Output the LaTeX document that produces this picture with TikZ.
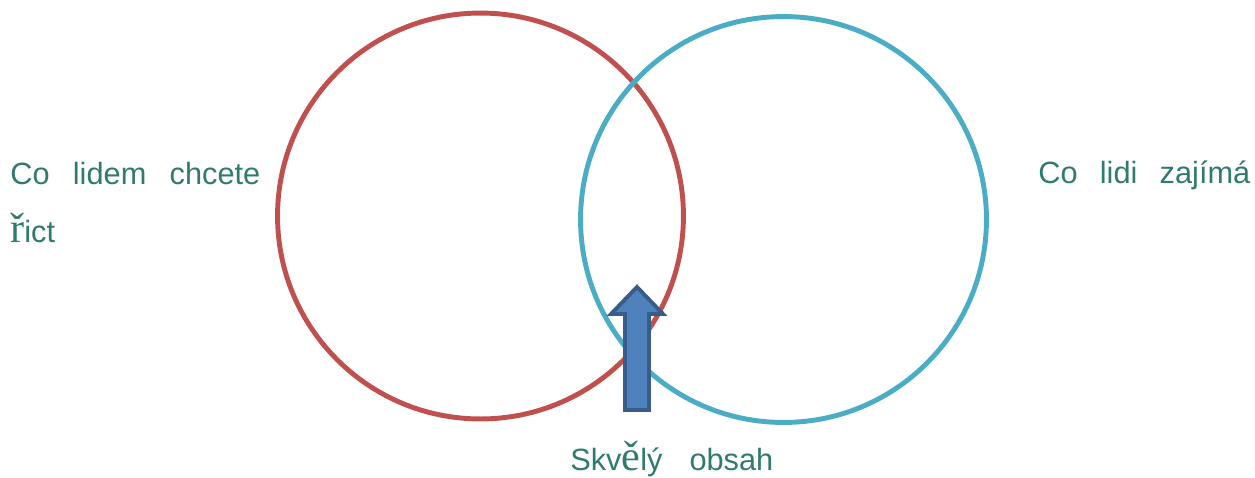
\documentclass[tikz,border=0pt]{standalone}
\usepackage{fontspec}
\setmainfont{Liberation Sans}
\newfontfamily\accfont{Liberation Serif}
\definecolor{ringred}{HTML}{C0504D}
\definecolor{ringblue}{HTML}{4BACC6}
\definecolor{arrowfill}{HTML}{4F81BD}
\definecolor{arrowline}{HTML}{385D8A}
\definecolor{tealtext}{HTML}{317A70}
\newcommand{\bigacc}[1]{{\accfont\fontsize{24}{24}\selectfont #1}}

\begin{document}
\begin{tikzpicture}[x=0.02cm, y=-0.02cm,
    ring/.style={draw, circle, line width=2.8pt, minimum size=8.12cm, inner sep=0pt},
    vtext/.style={anchor=base west, inner sep=0pt, text=tealtext, font=\fontsize{17.5}{21}\selectfont}]
    \useasboundingbox (0,0) rectangle (1255,477);
    % the two sets
    \node[ring, ringred] (said) at (480.5,216) {};
    \node[ring, ringblue] (wanted) at (783.5,219.5) {};
    % captions
    \node[vtext] (saidtxt) at (10,184) {\makebox[5cm][s]{Co lidem chcete}};
    \node[vtext] (saidtxt2) at (10,242) {\bigacc{ř}ict};
    \node[vtext] (wantedtxt) at (1038,183) {\makebox[4.24cm][s]{Co lidi zajímá}};
    \node[vtext] (bothtxt) at (570,470) {\makebox[4.06cm][s]{Skv\bigacc{ě}lý obsah}};
    % arrow into the overlap
    \draw[line width=2.2pt, arrowline, fill=arrowfill, line join=miter]
    (625,410) -- (625,314) -- (611,314) -- (637,287) -- (663,314) -- (649,314) -- (649,410) -- cycle;
\end{tikzpicture}
\end{document}
